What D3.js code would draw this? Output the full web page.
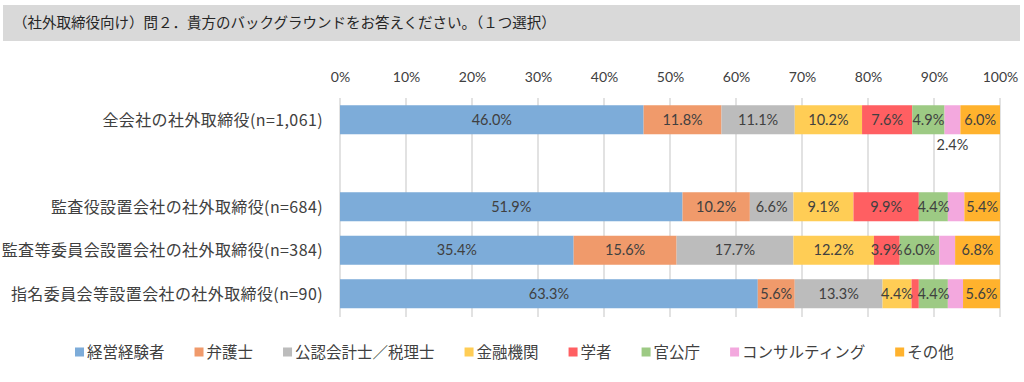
<!DOCTYPE html>
<html lang="ja">
<head>
<meta charset="utf-8">
<title>社外取締役のバックグラウンド</title>
<script src="https://d3js.org/d3.v7.min.js"></script>
<style>
  body { margin: 0; background: #fff; }
  svg { display: block; }
</style>
</head>
<body>
<script>
// data
var categories = [
  "全会社の社外取締役(n=1,061)",
  "監査役設置会社の社外取締役(n=684)",
  "監査等委員会設置会社の社外取締役(n=384)",
  "指名委員会等設置会社の社外取締役(n=90)"
];
var seriesNames = ["経営経験者", "弁護士", "公認会計士／税理士", "金融機関", "学者", "官公庁", "コンサルティング", "その他"];
var seriesColors = ["#7dacd9", "#f09a6b", "#bcbcbc", "#ffcd55", "#ff5f62", "#9dca84", "#f3a8de", "#ffb22d"];
var keieiValues   = [46.0, 51.9, 35.4, 63.3];
var bengoshiValues = [11.8, 10.2, 15.6, 5.6];
var kaikeiValues  = [11.1, 6.6, 17.7, 13.3];
var kinyuValues   = [10.2, 9.1, 12.2, 4.4];
var gakushaValues = [7.6, 9.9, 3.9, 1.1];
var kankochoValues = [4.9, 4.4, 6.0, 4.4];
var consulValues  = [2.4, 2.5, 2.4, 2.3];
var sonotaValues  = [6.0, 5.4, 6.8, 5.6];
var tickValues = [0, 10, 20, 30, 40, 50, 60, 70, 80, 90, 100];
var titleText = "（社外取締役向け）問２．貴方のバックグラウンドをお答えください。（１つ選択）";

var allValues = [keieiValues, bengoshiValues, kaikeiValues, kinyuValues, gakushaValues, kankochoValues, consulValues, sonotaValues];

var w = 1024, h = 382;
var jp = "'Noto Sans CJK JP', 'Noto Sans', sans-serif";
var num = "Lato, 'Liberation Sans', sans-serif";
var textColor = "#404040";

var svg = d3.select("body").append("svg")
  .attr("width", w)
  .attr("height", h);

// title box
svg.append("rect")
  .attr("x", 3).attr("y", 5)
  .attr("width", 1017).attr("height", 36)
  .attr("fill", "#d9d9d9");
svg.append("text")
  .attr("x", 13).attr("y", 28)
  .attr("font-family", jp)
  .attr("font-size", "14.5px")
  .attr("fill", "#262626")
  .text(titleText);

// scales (a blank slot between the first row and the rest)
var domain = [categories[0], "_gap", categories[1], categories[2], categories[3]];
var xScale = d3.scaleLinear().domain([0, 100]).range([340, 1000]);
var yScale = d3.scaleBand()
  .domain(domain)
  .range([98, 98 + 5 * 43.5])
  .paddingInner(0.333)
  .paddingOuter(0.1667);

// gridlines
svg.append("g")
  .selectAll("line")
  .data(tickValues)
  .enter()
  .append("line")
  .attr("x1", function(d) { return xScale(d); })
  .attr("x2", function(d) { return xScale(d); })
  .attr("y1", 98)
  .attr("y2", 317)
  .attr("stroke", "#d9d9d9")
  .attr("stroke-width", 1.5);

// top axis
var xAxis = d3.axisTop(xScale)
  .tickValues(tickValues)
  .tickSize(0)
  .tickPadding(0)
  .tickFormat(function(d) { return d + "%"; });
var axisG = svg.append("g")
  .attr("transform", "translate(0,82)")
  .call(xAxis);
axisG.select(".domain").remove();
axisG.selectAll("text")
  .attr("font-family", num)
  .attr("font-size", "14px")
  .attr("fill", textColor);

// stacked data
var rows = categories.map(function(c, i) {
  var x0 = 0;
  return allValues.map(function(vals, s) {
    var seg = { cat: c, row: i, series: s, v: vals[i], x0: x0, x1: x0 + vals[i] };
    x0 += vals[i];
    return seg;
  });
});
var segs = [].concat.apply([], rows);

svg.append("g")
  .selectAll("rect")
  .data(segs)
  .enter()
  .append("rect")
  .attr("x", function(d) { return xScale(d.x0); })
  .attr("width", function(d) { return xScale(d.x1) - xScale(d.x0); })
  .attr("y", function(d) { return yScale(d.cat); })
  .attr("height", yScale.bandwidth())
  .attr("fill", function(d) { return seriesColors[d.series]; });

// value labels: tiny segments and the consulting slice are skipped,
// except on the first row where consulting sits below the bar
var labelled = segs.filter(function(d) {
  if (d.v < 2) return false;
  if (d.series === 6) return d.row === 0;
  return true;
});
svg.append("g")
  .selectAll("text")
  .data(labelled)
  .enter()
  .append("text")
  .attr("x", function(d) { return xScale((d.x0 + d.x1) / 2); })
  .attr("y", function(d) {
    var y = yScale(d.cat) + yScale.bandwidth() / 2;
    return d.series === 6 ? y + 25 : y;
  })
  .attr("dy", "0.36em")
  .attr("text-anchor", "middle")
  .attr("font-family", num)
  .attr("font-size", "14.5px")
  .attr("fill", textColor)
  .text(function(d) { return d.v.toFixed(1) + "%"; });

// category labels
svg.append("g")
  .selectAll("text")
  .data(categories)
  .enter()
  .append("text")
  .attr("x", 323)
  .attr("y", function(d) { return yScale(d) + yScale.bandwidth() / 2; })
  .attr("dy", "0.36em")
  .attr("text-anchor", "end")
  .attr("font-family", jp)
  .attr("font-size", "16px")
  .attr("letter-spacing", "0.4px")
  .attr("fill", textColor)
  .text(function(d) { return d; });

// legend
var legend = svg.append("g").attr("transform", "translate(75,352)");
var lx = 0;
seriesNames.forEach(function(name, i) {
  var item = legend.append("g").attr("transform", "translate(" + lx + ",0)");
  item.append("rect")
    .attr("x", 0).attr("y", -4.5)
    .attr("width", 9).attr("height", 9)
    .attr("fill", seriesColors[i]);
  var t = item.append("text")
    .attr("x", 12)
    .attr("dy", "0.36em")
    .attr("font-family", jp)
    .attr("font-size", "15.5px")
    .attr("fill", textColor)
    .text(name);
  lx += 12 + t.node().getComputedTextLength() + 30;
});
</script>
</body>
</html>
